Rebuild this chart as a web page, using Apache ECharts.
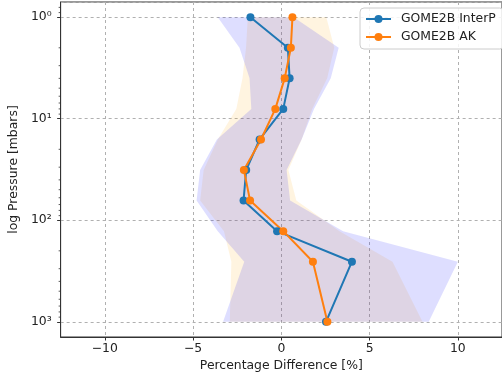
<!DOCTYPE html>
<html>
<head>
<meta charset="utf-8">
<script src="https://cdn.jsdelivr.net/npm/echarts@6/dist/echarts.min.js"></script>
<style>
  html, body { margin: 0; padding: 0; background: #fff; }
  #chart { width: 502px; height: 378px; }
</style>
</head>
<body>
<div id="chart"></div>
<script>
// pressure levels (mbar)
var pressure = [1, 2, 4, 8, 16, 32, 64, 128, 256, 1000];

// mean percentage differences
var interP = [-1.75, 0.37, 0.47, 0.11, -1.23, -1.99, -2.14, -0.24, 4.0, 2.53];
var ak = [0.63, 0.54, 0.19, -0.34, -1.15, -2.12, -1.77, 0.11, 1.79, 2.61];

// spread bands
var interPLow = [-3.6, -2.37, -1.8, -1.7, -3.65, -4.6, -4.8, -3.6, -2.1, -3.3];
var interPHigh = [0.7, 3.25, 2.8, 1.85, 1.15, 0.3, 0.5, 3.5, 10.0, 8.35];
var akLow = [-1.9, -2.0, -2.2, -2.55, -3.6, -4.4, -4.6, -3.25, -2.83, -2.92];
var akHigh = [2.55, 3.0, 2.6, 1.75, 1.15, 0.4, 0.85, 3.3, 6.3, 8.0];

// log minor tick positions
var minorTicks = [0.8, 0.9, 2, 3, 4, 5, 6, 7, 8, 9, 20, 30, 40, 50, 60, 70, 80, 90,
                  200, 300, 400, 500, 600, 700, 800, 900];

var xMin = -12.5, xMax = 12.5;
var yMin = Math.pow(10, -0.15), yMax = Math.pow(10, 3.15);
var FONT = 'DejaVu Sans';
var TXT = '#222';
var SUP = ['\u2070', '\u00b9', '\u00b2', '\u00b3'];

function bandSeries(name, low, high, color) {
    return {
        name: name,
        type: 'custom',
        silent: true,
        z: 1,
        data: pressure.map(function (p, i) { return [low[i], high[i], p]; }),
        encode: { x: [0, 1], y: 2 },
        renderItem: function (params, api) {
            if (params.dataIndex !== 0) return;
            var pts = [];
            for (var i = 0; i < pressure.length; i++) pts.push(api.coord([low[i], pressure[i]]));
            for (var j = pressure.length - 1; j >= 0; j--) pts.push(api.coord([high[j], pressure[j]]));
            return { type: 'polygon', shape: { points: pts }, style: { fill: color } };
        }
    };
}

function lineSeries(name, vals, color) {
    return {
        name: name,
        type: 'line',
        z: 5,
        data: pressure.map(function (p, i) { return [vals[i], p]; }),
        symbol: 'circle',
        symbolSize: 8,
        color: color,
        lineStyle: { width: 2, color: color },
        itemStyle: { color: color }
    };
}

var chart = echarts.init(document.getElementById('chart'), null, { renderer: 'canvas' });
chart.setOption({
    animation: false,
    textStyle: { fontFamily: FONT },
    grid: { left: 60, top: 2, right: -5.5, bottom: 41, show: true, borderColor: '#333', borderWidth: 1 },
    legend: {
        data: ['GOME2B InterP', 'GOME2B AK'],
        orient: 'vertical',
        left: 360,
        top: 8,
        padding: [4, 8, 5, 5],
        itemWidth: 25,
        itemHeight: 10,
        itemGap: 4,
        backgroundColor: 'rgba(255,255,255,0.85)',
        borderColor: '#ccc',
        borderWidth: 1,
        borderRadius: 4,
        textStyle: { fontFamily: FONT, fontSize: 12.4, color: TXT, lineHeight: 14, padding: [0, 0, 0, 5] }
    },
    xAxis: {
        type: 'value',
        min: xMin,
        max: xMax,
        splitNumber: 5,
        name: 'Percentage Difference [%]',
        nameLocation: 'middle',
        nameGap: 23,
        nameTextStyle: { fontFamily: FONT, fontSize: 12.4, color: TXT },
        axisLine: { show: true, onZero: false, lineStyle: { color: '#333', width: 1 } },
        axisTick: { show: true, inside: false, length: 3.5, lineStyle: { color: '#333' } },
        axisLabel: {
            fontFamily: FONT, fontSize: 12.4, color: TXT, margin: 6,
            showMinLabel: false, showMaxLabel: false,
            formatter: function (v) { return v < 0 ? '\u2212' + Math.abs(v) : '' + v; }
        },
        splitLine: { show: true, lineStyle: { color: '#b0b0b0', type: [3, 3], width: 1 } }
    },
    yAxis: {
        type: 'log',
        logBase: 10,
        inverse: true,
        min: yMin,
        max: yMax,
        name: 'log Pressure [mbars]',
        nameLocation: 'middle',
        nameGap: 34,
        nameTextStyle: { fontFamily: FONT, fontSize: 12.4, color: TXT },
        axisLine: { show: true, onZero: false, lineStyle: { color: '#333', width: 1 } },
        axisTick: { show: true, inside: false, length: 3.5, lineStyle: { color: '#333' } },
        axisLabel: {
            fontFamily: FONT, fontSize: 12.4, color: TXT, margin: 9,
            showMinLabel: false, showMaxLabel: false,
            formatter: function (v) {
                var e = Math.round(Math.log10(v));
                if (Math.abs(Math.log10(v) - e) > 1e-6 || e < 0 || e > 3) return '';
                return '10' + SUP[e];
            }
        },
        splitLine: { show: true, lineStyle: { color: '#b0b0b0', type: [3, 3], width: 1 } }
    },
    series: [
        bandSeries('AK band', akLow, akHigh, 'rgba(255,165,0,0.12)'),
        bandSeries('InterP band', interPLow, interPHigh, 'rgba(0,0,255,0.13)'),
        {
            name: 'minor ticks',
            type: 'custom',
            silent: true,
            z: 6,
            data: minorTicks.map(function (p) { return [xMin, p]; }),
            encode: { x: 0, y: 1 },
            renderItem: function (params, api) {
                var c = api.coord([api.value(0), api.value(1)]);
                return {
                    type: 'line',
                    shape: { x1: c[0] - 2, y1: c[1], x2: c[0], y2: c[1] },
                    style: { stroke: '#333', lineWidth: 0.8 }
                };
            }
        },
        lineSeries('GOME2B InterP', interP, '#1f77b4'),
        lineSeries('GOME2B AK', ak, '#ff7f0e')
    ]
});
</script>
</body>
</html>
